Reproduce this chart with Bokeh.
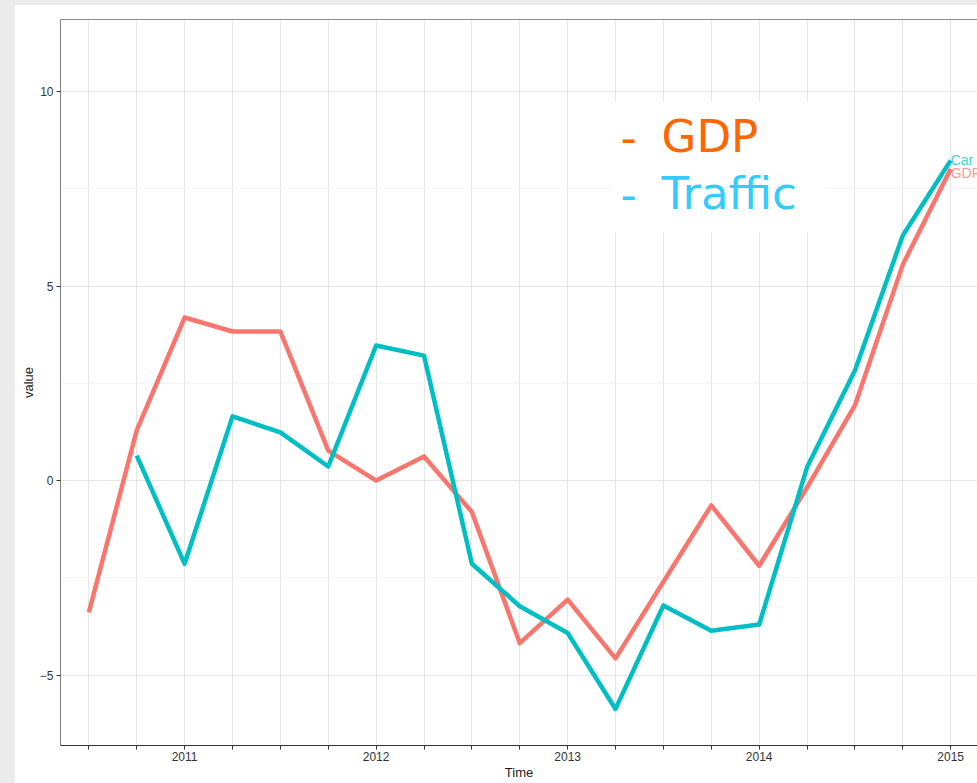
from bokeh.plotting import figure
from bokeh.models import (ColumnDataSource, FixedTicker, CustomJSTickFormatter, Range1d,
                          LinearAxis, BoxAnnotation, Label, Spacer)
from bokeh.layouts import row, column
from bokeh.core.properties import value
from bokeh.embed import file_html
from bokeh.resources import INLINE

# ---- data (quarterly) ----
time_gdp = [2010.50, 2010.75, 2011.00, 2011.25, 2011.50, 2011.75, 2012.00, 2012.25, 2012.50,
            2012.75, 2013.00, 2013.25, 2013.50, 2013.75, 2014.00, 2014.25, 2014.50, 2014.75, 2015.00]
gdp = [-3.39, 1.29, 4.19, 3.83, 3.83, 0.77, 0.00, 0.62, -0.81,
       -4.18, -3.06, -4.57, -2.60, -0.64, -2.19, -0.18, 1.93, 5.55, 8.01]

time_car = [2010.75, 2011.00, 2011.25, 2011.50, 2011.75, 2012.00, 2012.25, 2012.50,
            2012.75, 2013.00, 2013.25, 2013.50, 2013.75, 2014.00, 2014.25, 2014.50, 2014.75, 2015.00]
car = [0.64, -2.14, 1.65, 1.24, 0.36, 3.47, 3.21, -2.14,
       -3.23, -3.92, -5.87, -3.21, -3.86, -3.70, 0.34, 2.83, 6.30, 8.23]

x_ticks = [2010.50, 2010.75, 2011.00, 2011.25, 2011.50, 2011.75, 2012.00, 2012.25, 2012.50,
           2012.75, 2013.00, 2013.25, 2013.50, 2013.75, 2014.00, 2014.25, 2014.50, 2014.75, 2015.00]
y_ticks = [-5, 0, 5, 10]
y_minor = [-2.5, 2.5, 7.5]

series_names = ["Car", "GDP"]
legend_dash = "-"
legend_words = ["GDP", "Traffic"]

GDP_COL = "#F8766D"
CAR_COL = "#00BFC4"
PAGE_GRAY = "#ebebeb"

p = figure(width=962, height=778, output_backend="svg", toolbar_location=None,
           x_range=Range1d(2010.352, 2015.140), y_range=Range1d(-6.81, 11.85),
           min_border_left=45, min_border_top=14, min_border_right=0, min_border_bottom=38)
p.outline_line_color = None
p.background_fill_color = "white"
p.border_fill_color = "white"

# grids
p.xgrid.ticker = FixedTicker(ticks=x_ticks)
p.xgrid.grid_line_color = "#e6e6e6"
p.xgrid.grid_line_width = 1
p.ygrid.ticker = FixedTicker(ticks=y_ticks, minor_ticks=y_minor)
p.ygrid.grid_line_color = "#e6e6e6"
p.ygrid.minor_grid_line_color = "#f4f4f4"

# axes
p.xaxis.ticker = FixedTicker(ticks=x_ticks)
p.xaxis.formatter = CustomJSTickFormatter(
    code="return (Math.abs(tick - Math.round(tick)) < 1e-6) ? Math.round(tick).toString() : '';")
p.yaxis.ticker = FixedTicker(ticks=y_ticks)
for ax in (p.xaxis[0], p.yaxis[0]):
    ax.major_tick_out = 4
    ax.major_tick_in = 0
    ax.minor_tick_line_color = None
    ax.major_label_text_font = "Liberation Sans"
    ax.major_label_text_font_size = "12px"
    ax.major_label_text_color = "#333333"
    ax.major_tick_line_color = "#333333"
    ax.axis_label_text_font = "Liberation Sans"
    ax.axis_label_text_font_size = "13px"
    ax.axis_label_text_font_style = "normal"
    ax.axis_label_text_color = "#1a1a1a"
p.xaxis.axis_label = "Time"
p.yaxis.axis_label = "value"
p.xaxis.major_label_standoff = 2
p.xaxis.axis_label_standoff = 1
p.yaxis.major_label_standoff = 3
p.yaxis.axis_label_standoff = 1
p.xaxis.axis_line_color = "#333333"
p.yaxis.axis_line_color = "#7f7f7f"

top_axis = LinearAxis(ticker=FixedTicker(ticks=[]), major_label_text_font_size="0px",
                      axis_line_color="#8a8a8a", major_tick_line_color=None,
                      minor_tick_line_color=None)
p.add_layout(top_axis, "above")

# lines
src_gdp = ColumnDataSource(dict(x=time_gdp, y=gdp))
src_car = ColumnDataSource(dict(x=time_car, y=car))
p.line("x", "y", source=src_gdp, line_color=GDP_COL, line_width=4.5, line_join="round")
p.line("x", "y", source=src_car, line_color=CAR_COL, line_width=4.5, line_join="round")

# end labels
end_src = ColumnDataSource(dict(x=[time_car[-1], time_gdp[-1]], y=[car[-1], gdp[-1] - 0.1],
                                t=series_names, c=[CAR_COL, GDP_COL]))
p.text("x", "y", text="t", source=end_src, text_color="c", text_alpha=0.75,
       text_font=value("Liberation Sans"), text_font_size="14px",
       text_baseline="middle", text_align="left")

# legend-like annotation with white background
p.add_layout(BoxAnnotation(left=2013.23, right=2014.345, bottom=6.38, top=9.75,
                           fill_color="white", fill_alpha=1.0, line_color=None, level="annotation"))
for yy, word, col in [(8.84, legend_words[0], "#FF6600"), (7.38, legend_words[1], "#33CCFF")]:
    p.add_layout(Label(x=2013.276, y=yy, text=legend_dash, text_color=col,
                       text_font="DejaVu Sans", text_font_size="45px", text_baseline="alphabetic"))
    p.add_layout(Label(x=2013.4905, y=yy, text=word, text_color=col,
                       text_font="DejaVu Sans", text_font_size="45px", text_baseline="alphabetic"))

left_strip = Spacer(width=15, height=783, styles={"background-color": PAGE_GRAY})
top_strip = Spacer(width=962, height=5, styles={"background-color": PAGE_GRAY})
layout = row(left_strip, column(top_strip, p, spacing=0), spacing=0)

open("out.html", "w").write(file_html(layout, INLINE))
